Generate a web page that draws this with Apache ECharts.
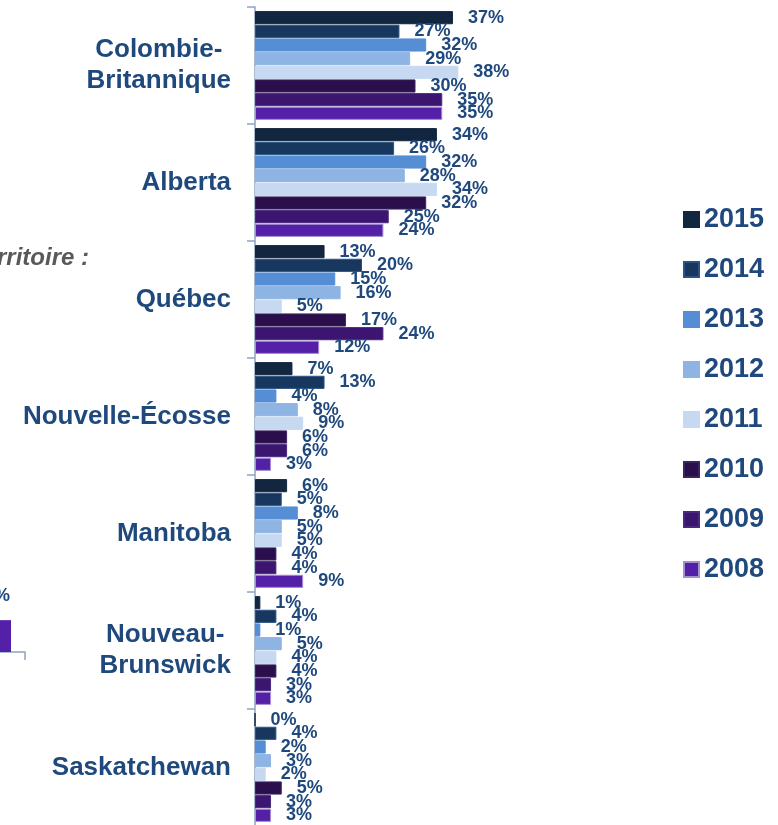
<!DOCTYPE html>
<html>
<head>
<meta charset="utf-8">
<style>
  html, body { margin: 0; padding: 0; background: #ffffff; }
  #chart { width: 778px; height: 825px; }
</style>
<script src="https://cdn.jsdelivr.net/npm/echarts@6/dist/echarts.min.js"></script>
</head>
<body>
<div id="chart"></div>
<script>
// Provinces, top to bottom
const provinces = ['Colombie-\nBritannique', 'Alberta', 'Québec', 'Nouvelle-Écosse', 'Manitoba', 'Nouveau-\nBrunswick', 'Saskatchewan'];

// Years shown in each province group (top bar first)
const years = ['2015', '2014', '2013', '2012', '2011', '2010', '2009', '2008'];

// Share (%) per province, one array per year
const v2015 = [37, 34, 13, 7, 6, 1, 0];
const v2014 = [27, 26, 20, 13, 5, 4, 4];
const v2013 = [32, 32, 15, 4, 8, 1, 2];
const v2012 = [29, 28, 16, 8, 5, 5, 3];
const v2011 = [38, 34, 5, 9, 5, 4, 2];
const v2010 = [30, 32, 17, 6, 4, 4, 5];
const v2009 = [35, 25, 24, 6, 4, 3, 3];
const v2008 = [35, 24, 12, 3, 9, 3, 3];

// Edge of the neighbouring panel (only its last bar shows)
const sideCategories = ['2008'];
const sideValues = [9];

const yearValues = [v2015, v2014, v2013, v2012, v2011, v2010, v2009, v2008];
const yearColors = ['#13263f', '#17375e', '#558ed5', '#8eb4e3', '#c6d9f1', '#2a0f4c', '#3c1570', '#5520a8'];
const yearBorders = ['#13263f', '#2b5485', '#558ed5', '#8eb4e3', '#c6d9f1', '#3a2560', '#4a2a7c', '#a48fd0'];

const textBlue = '#1f497d';
const axisGrey = '#8ea4c1';
const fontFamily = '"Liberation Sans", Arial, sans-serif';

const chart = echarts.init(document.getElementById('chart'), null, { renderer: 'canvas' });

const mainSeries = years.map((y, i) => ({
  name: y,
  type: 'bar',
  xAxisIndex: 0,
  yAxisIndex: 0,
  data: yearValues[i],
  barCategoryGap: '7%',
  barGap: '4%',
  itemStyle: { color: yearColors[i], borderColor: yearBorders[i], borderWidth: 1 },
  label: {
    show: true,
    position: 'right',
    distance: 15,
    formatter: '{c}%',
    color: textBlue,
    fontSize: 18,
    fontWeight: 'bold',
    fontFamily: fontFamily
  },
  animation: false
}));

const option = {
  backgroundColor: '#ffffff',
  animation: false,
  grid: [
    { left: 255, top: 7, bottom: -1, width: 214, containLabel: false, outerBoundsMode: 'none' },
    { left: -31, top: 560, width: 56, height: 92, containLabel: false, outerBoundsMode: 'none' }
  ],
  xAxis: [
    { type: 'value', gridIndex: 0, min: 0, max: 40, show: false },
    {
      type: 'category', gridIndex: 1, data: sideCategories,
      axisLine: { lineStyle: { color: axisGrey, width: 1.5 } },
      axisTick: { show: true, length: 8, lineStyle: { color: axisGrey, width: 1.5 } },
      axisLabel: { show: false }
    }
  ],
  yAxis: [
    {
      type: 'category', gridIndex: 0, data: provinces, inverse: true,
      axisLine: { show: true, lineStyle: { color: axisGrey, width: 1.5 } },
      axisTick: { show: true, inside: false, length: 8, lineStyle: { color: axisGrey, width: 1.5 } },
      axisLabel: {
        margin: 24,
        formatter: (val) => val.split('\n').map(s => '{c|' + s + '}').join('\n'),
        rich: {
          c: {
            align: 'center',
            color: textBlue,
            fontSize: 26,
            fontWeight: 'bold',
            fontFamily: fontFamily,
            lineHeight: 31
          }
        }
      },
      splitLine: { show: false }
    },
    { type: 'value', gridIndex: 1, min: 0, max: 26, show: false }
  ],
  legend: {
    data: years,
    orient: 'vertical',
    left: 683,
    top: 206,
    padding: 0,
    itemWidth: 15,
    itemHeight: 15,
    itemGap: 23,
    icon: 'rect',
    textStyle: {
      color: textBlue,
      fontSize: 27,
      fontWeight: 'bold',
      fontFamily: fontFamily,
      lineHeight: 27
    }
  },
  graphic: [
    {
      type: 'text',
      style: {
        x: 89,
        y: 258,
        text: 'Par province/territoire :',
        textAlign: 'right',
        textVerticalAlign: 'middle',
        fill: '#595959',
        font: 'italic bold 24px "Liberation Sans", Arial, sans-serif'
      }
    }
  ],
  series: mainSeries.concat([
    {
      type: 'bar',
      xAxisIndex: 1,
      yAxisIndex: 1,
      data: sideValues,
      barWidth: 28,
      itemStyle: { color: '#5520a8' },
      label: {
        show: true,
        position: 'top',
        distance: 15,
        formatter: '{c}%',
        color: textBlue,
        fontSize: 18,
        fontWeight: 'bold',
        fontFamily: fontFamily
      },
      animation: false
    }
  ])
};

chart.setOption(option);
</script>
</body>
</html>
